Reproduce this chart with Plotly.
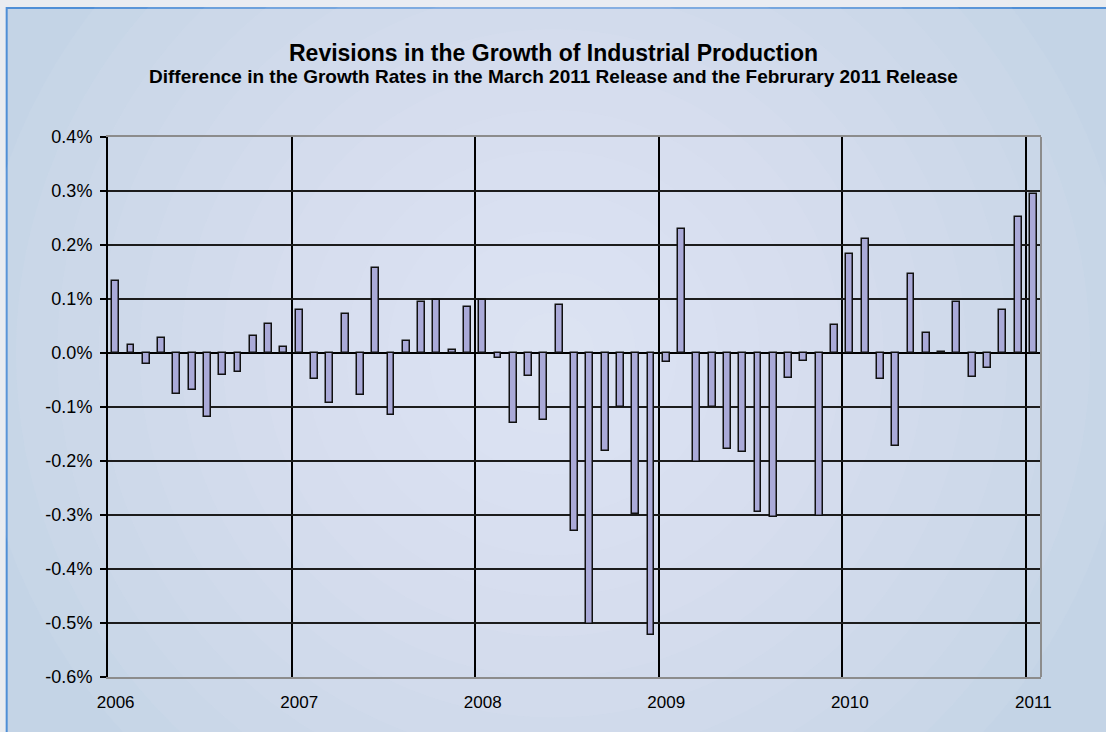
import plotly.graph_objects as go

# Monthly revision to industrial production growth (percentage points),
# March 2011 release minus February 2011 release, Jan 2006 - Jan 2011
rev_2006 = [0.134, 0.014, -0.021, 0.028, -0.075, -0.069, -0.118, -0.041, -0.035, 0.031, 0.054, 0.011]
rev_2007 = [0.080, -0.049, -0.092, 0.072, -0.078, 0.158, -0.115, 0.023, 0.094, 0.098, 0.006, 0.086]
rev_2008 = [0.098, -0.009, -0.129, -0.043, -0.124, 0.089, -0.330, -0.502, -0.181, -0.100, -0.298, -0.522]
rev_2009 = [-0.017, 0.229, -0.201, -0.100, -0.177, -0.183, -0.295, -0.303, -0.046, -0.015, -0.301, 0.052]
rev_2010 = [0.183, 0.212, -0.049, -0.172, 0.146, 0.037, 0.002, 0.094, -0.044, -0.027, 0.080, 0.252]
rev_2011 = [0.295]

revisions_pct = rev_2006 + rev_2007 + rev_2008 + rev_2009 + rev_2010 + rev_2011
year_labels = ["2006", "2007", "2008", "2009", "2010", "2011"]
y_tick_values = [-0.006, -0.005, -0.004, -0.003, -0.002, -0.001, 0.0, 0.001, 0.002, 0.003, 0.004]
y_tick_labels = ["-0.6%", "-0.5%", "-0.4%", "-0.3%", "-0.2%", "-0.1%", "0.0%", "0.1%", "0.2%", "0.3%", "0.4%"]

month_index = list(range(len(revisions_pct)))
january_index = [12 * i for i in range(len(year_labels))]      # label under each January bar
year_starts = [12 * i - 0.5 for i in range(len(year_labels))]  # vertical grid at year boundaries

FONT = "Arial, Liberation Sans, sans-serif"

fig = go.Figure()
fig.add_trace(go.Bar(
    x=month_index,
    y=[v / 100 for v in revisions_pct],
    width=0.45,
    marker=dict(color="#aaaad8", line=dict(color="#111111", width=1.5)),
    hoverinfo="y",
))

# chart frame with a soft radial highlight
shapes = [dict(type="rect", xref="paper", yref="paper", x0=-0.1086, x1=1.2, y0=-0.3, y1=1.2389,
               fillcolor="#c4d4e6", line=dict(color="#4f8fd6", width=2), layer="below")]
n_rings = 14
for i in range(n_rings):
    f = 1 - i / n_rings
    shapes.append(dict(type="circle", xref="paper", yref="paper",
                       x0=0.477 - 0.62 * f, x1=0.477 + 0.62 * f,
                       y0=0.6 - 1.05 * f, y1=0.6 + 1.05 * f,
                       fillcolor="rgba(240,243,248,0.07)", line=dict(width=0), layer="below"))
# right edge of the plot area
shapes.append(dict(type="line", xref="paper", yref="paper", x0=1, x1=1, y0=0, y1=1,
                   line=dict(color="#8c8c8c", width=2)))

fig.update_layout(
    width=1106, height=732,
    margin=dict(l=108, r=65, t=137, b=55),
    paper_bgcolor="#e9ecf0",
    plot_bgcolor="#cccccc",
    showlegend=False,
    bargap=0,
    shapes=shapes,
    font=dict(family=FONT, color="#000000"),
    annotations=[
        dict(text="<b>Revisions in the Growth of Industrial Production</b>",
             xref="paper", yref="paper", x=0.477, y=(677 - 53) / 540, xanchor="center", yanchor="middle",
             showarrow=False, font=dict(size=23, family=FONT, color="#000000")),
        dict(text="<b>Difference in the Growth Rates in the March 2011 Release and the Februrary 2011 Release</b>",
             xref="paper", yref="paper", x=0.477, y=(677 - 76) / 540, xanchor="center", yanchor="middle",
             showarrow=False, font=dict(size=19, family=FONT, color="#000000")),
    ],
)

fig.update_xaxes(
    range=[-0.5, len(revisions_pct) - 0.5],
    tickmode="array", tickvals=january_index, ticktext=year_labels,
    showgrid=False,
    minor=dict(tickmode="array", tickvals=year_starts, showgrid=True,
               gridcolor="#000000", gridwidth=1.5, ticks=""),
    showline=True, linecolor="#8c8c8c", linewidth=2, mirror=True,
    ticks="", ticklabelstandoff=9,
    tickfont=dict(size=17, family=FONT, color="#000000"),
    zeroline=False,
)
fig.update_yaxes(
    range=[-0.006, 0.004],
    tickmode="array", tickvals=y_tick_values, ticktext=y_tick_labels,
    showgrid=True, gridcolor="#1c1c1c", gridwidth=2,
    showline=True, linecolor="#000000", linewidth=2,
    ticks="outside", ticklen=6, tickwidth=2, tickcolor="#000000",
    ticklabelstandoff=4,
    tickfont=dict(size=18, family=FONT, color="#000000"),
    zeroline=True, zerolinecolor="#000000", zerolinewidth=2,
)

fig.write_html("out.html")
